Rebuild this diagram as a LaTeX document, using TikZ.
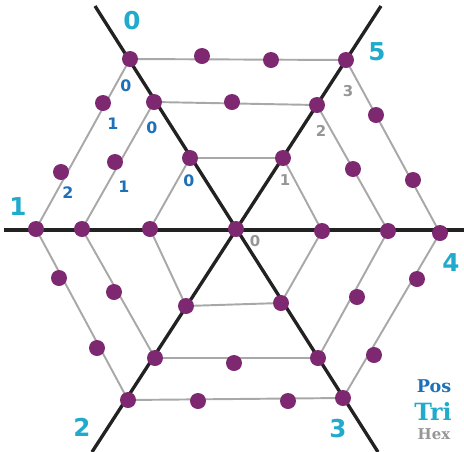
\documentclass[tikz,border=0pt]{standalone}
\usepackage{fontspec}
\usepackage{xcolor}
\usepackage{tikz}
\usetikzlibrary{backgrounds}
\newfontfamily\digitfont{DejaVu Sans}
\newfontfamily\slabfont{DejaVu Serif}
\definecolor{dotpurple}{RGB}{125,40,112}
\definecolor{shellcyan}{RGB}{32,170,204}
\definecolor{posblue}{RGB}{30,112,184}
\definecolor{hexgray}{RGB}{150,150,150}
\definecolor{rimgray}{RGB}{168,168,168}
\definecolor{spokeblack}{RGB}{34,34,34}
\tikzset{
  dot/.style={circle, fill=dotpurple, draw=none, minimum size=0.32cm, inner sep=0pt},
  spoke/.style={line width=1.9pt, color=spokeblack},
  rim/.style={line width=1.1pt, color=rimgray},
  shelllbl/.style={font=\digitfont\bfseries\fontsize{14}{14}\selectfont, text=shellcyan, inner sep=0pt},
  poslbl/.style={font=\digitfont\bfseries\fontsize{9}{9}\selectfont, text=posblue, inner sep=0pt},
  hexlbl/.style={font=\digitfont\bfseries\fontsize{8.5}{8.5}\selectfont, text=hexgray, inner sep=0pt},
}

\begin{document}
\begin{tikzpicture}[x=0.02cm, y=-0.02cm]
  \useasboundingbox (0,0) rectangle (464,451);

  % centre and inner shell
  \node[dot] (ctr) at (236,229) {};
  \node[dot] (a0) at (190,158) {};
  \node[dot] (a5) at (283,158) {};
  \node[dot] (a4) at (322,231) {};
  \node[dot] (a3) at (281,303) {};
  \node[dot] (a2) at (186,306) {};
  \node[dot] (a1) at (150,229) {};

  % middle shell
  \node[dot] (b0) at (154,102) {};
  \node[dot] (b5) at (317,105) {};
  \node[dot] (b4) at (388,231) {};
  \node[dot] (b3) at (318,358) {};
  \node[dot] (b2) at (155,358) {};
  \node[dot] (b1) at (82,229) {};
  \node[dot] (b05) at (232,102) {};
  \node[dot] (b01) at (115,162) {};
  \node[dot] (b12) at (114,292) {};
  \node[dot] (b23) at (234,363) {};
  \node[dot] (b34) at (357,297) {};
  \node[dot] (b45) at (353,169) {};

  % outer shell
  \node[dot] (c0) at (130,59) {};
  \node[dot] (c5) at (346,60) {};
  \node[dot] (c4) at (440,233) {};
  \node[dot] (c3) at (343,398) {};
  \node[dot] (c2) at (128,400) {};
  \node[dot] (c1) at (36,229) {};
  \node[dot] (c05a) at (202,56) {};
  \node[dot] (c05b) at (271,60) {};
  \node[dot] (c01a) at (103,103) {};
  \node[dot] (c01b) at (61,172) {};
  \node[dot] (c12a) at (59,278) {};
  \node[dot] (c12b) at (97,348) {};
  \node[dot] (c23a) at (198,401) {};
  \node[dot] (c23b) at (288,401) {};
  \node[dot] (c34a) at (374,355) {};
  \node[dot] (c34b) at (417,279) {};
  \node[dot] (c45a) at (376,115) {};
  \node[dot] (c45b) at (413,180) {};

  \coordinate (nw) at (95,6);
  \coordinate (se) at (378,452);
  \coordinate (ne) at (381,6);
  \coordinate (sw) at (92,452);
  \coordinate (w) at (4,230);
  \coordinate (e) at (464,230);

  \begin{scope}[on background layer]
    \draw[rim] (a0.center) -- (a5.center) -- (a4.center) -- (a3.center) -- (a2.center) -- (a1.center) -- (a0.center);
    \draw[rim] (b0.center) -- (b5.center) -- (b4.center) -- (b3.center) -- (b2.center) -- (b1.center) -- (b0.center);
    \draw[rim] (c0.center) -- (c5.center) -- (c4.center) -- (c3.center) -- (c2.center) -- (c1.center) -- (c0.center);
    \draw[spoke] (nw) -- (se);
    \draw[spoke] (ne) -- (sw);
    \draw[spoke] (w) -- (e);
  \end{scope}

  % shell labels
  \node[shelllbl] (n0) at (132,21) {0};
  \node[shelllbl] (n5) at (377,52) {5};
  \node[shelllbl] (n1) at (18,207) {1};
  \node[shelllbl] (n4) at (451,263) {4};
  \node[shelllbl] (n2) at (82,427) {2};
  \node[shelllbl] (n3) at (338,429) {3};

  % position labels
  \node[poslbl] (p1) at (126,86) {0};
  \node[poslbl] (p2) at (113,124) {1};
  \node[poslbl] (p3) at (68,193) {2};
  \node[poslbl] (p4) at (152,128) {0};
  \node[poslbl] (p5) at (124,187) {1};
  \node[poslbl] (p6) at (189,181) {0};

  % hex labels
  \node[hexlbl] (h3) at (348,91) {3};
  \node[hexlbl] (h2) at (321,131) {2};
  \node[hexlbl] (h1) at (285,180) {1};
  \node[hexlbl] (h0) at (255,241) {0};

  % legend
  \node[font=\slabfont\bfseries\fontsize{10}{10}\selectfont, text=posblue, inner sep=0pt] (kpos) at (434,386) {Pos};
  \node[font=\slabfont\bfseries\fontsize{13.5}{13.5}\selectfont, text=shellcyan, inner sep=0pt] (ktri) at (433,411) {Tri};
  \node[font=\slabfont\bfseries\fontsize{8.5}{8.5}\selectfont, text=hexgray, inner sep=0pt] (khex) at (434,434) {Hex};
\end{tikzpicture}
\end{document}
